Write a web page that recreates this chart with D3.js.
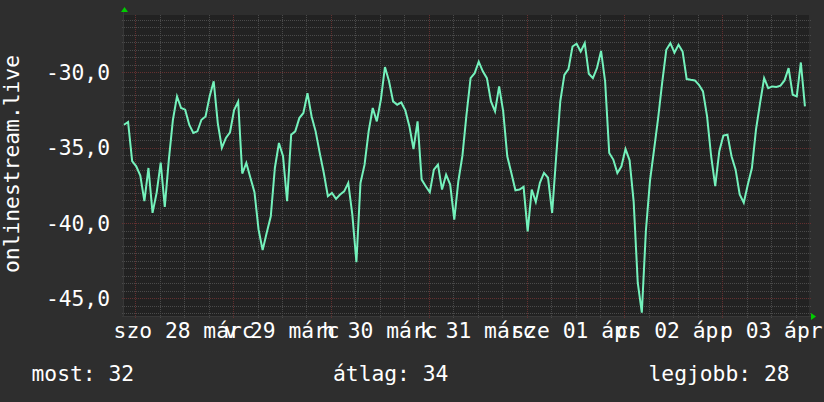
<!DOCTYPE html>
<html><head><meta charset="utf-8">
<script src="https://cdn.jsdelivr.net/npm/d3@7/dist/d3.min.js"></script>
<style>html,body{margin:0;padding:0;background:#2e2e2e;} svg{display:block}</style>
</head><body>
<svg id="chart" width="824" height="402"></svg>
<script>
// ---------------- data ----------------
const seriesName = "onlinestream.live";
const startTime = Date.UTC(2020, 2, 27, 21, 15);   // first sample
const endTime = Date.UTC(2020, 3, 3, 21, 15);      // end of the week window
const stepHours = 1;
const values = [
  -33.48,-33.3,-35.9,-36.24,-36.85,-38.55,-36.35,-39.33,-38.0,-36.0,
  -38.93,-35.8,-33.15,-31.6,-32.37,-32.48,-33.48,-34.03,-33.92,-33.15,
  -32.93,-31.6,-30.6,-33.37,-35.02,-34.36,-33.98,-32.5,-31.95,-36.72,
  -36.02,-37.0,-37.96,-40.43,-41.8,-40.65,-39.55,-36.35,-34.69,-35.57,
  -38.55,-34.14,-33.92,-33.04,-32.7,-31.38,-32.92,-33.92,-35.35,-36.68,
  -38.22,-38.0,-38.4,-38.11,-37.9,-37.34,-39.44,-42.6,-37.34,-36.13,
  -33.92,-32.37,-33.26,-31.82,-29.65,-30.6,-31.93,-32.15,-32.0,-32.53,
  -33.59,-35.09,-33.26,-37.12,-37.56,-37.96,-36.46,-36.13,-37.78,-36.79,
  -37.45,-39.77,-37.23,-35.53,-32.81,-30.39,-30.06,-29.3,-29.94,-30.39,
  -31.93,-32.59,-30.94,-32.59,-35.57,-36.68,-37.83,-37.78,-37.6,-40.55,
  -37.78,-38.6,-37.34,-36.68,-37.0,-39.33,-35.57,-31.93,-30.17,-29.79,
  -28.29,-28.11,-28.62,-28.07,-30.1,-30.39,-29.72,-28.58,-30.61,-35.35,
  -35.79,-36.68,-36.24,-35.09,-35.84,-38.6,-43.96,-45.95,-40.5,-37.2,
  -35.13,-33.04,-30.67,-28.51,-28.07,-28.7,-28.18,-28.62,-30.45,-30.5,
  -30.54,-30.83,-31.27,-32.92,-35.57,-37.56,-35.24,-34.2,-34.14,-35.57,
  -36.46,-38.11,-38.66,-37.45,-36.35,-33.81,-32.04,-30.39,-31.05,-30.94,
  -30.98,-30.89,-30.54,-29.72,-31.49,-31.6,-29.35,-32.26
];
const dayLabels = ["szo 28 márc","v 29 márc","h 30 márc","k 31 márc","sze 01 ápr","cs 02 ápr","p 03 ápr"];
const dayLabelTimes = ["2020-03-28T12:00Z","2020-03-29T12:00Z","2020-03-30T12:00Z","2020-03-31T12:00Z","2020-04-01T12:00Z","2020-04-02T12:00Z","2020-04-03T12:00Z"];
const yDomain = [-46.17, -26.2];
const yTicks = [-45, -40, -35, -30];
const yTickLabels = ["-45,0", "-40,0", "-35,0", "-30,0"];
const legendNames = ["most", "átlag", "legjobb"];
const legendValues = [32, 34, 28];

// ---------------- drawing ----------------
const FONT = "'DejaVu Sans Mono', monospace";
const FS = 21.3;
const svg = d3.select("#chart");
const W = 824, H = 402;
const plot = {l: 124, r: 809, t: 15, b: 316};

svg.append("rect").attr("width", W).attr("height", H).attr("fill", "#2e2e2e");

const x = d3.scaleUtc().domain([new Date(startTime), new Date(endTime)]).range([plot.l, plot.r]);
const y = d3.scaleLinear().domain(yDomain).range([plot.b, plot.t]);

svg.append("rect").attr("x", plot.l).attr("y", plot.t)
  .attr("width", plot.r - plot.l).attr("height", plot.b - plot.t).attr("fill", "#222222");

const px = v => Math.round(v) + 0.5;
const grid = svg.append("g").attr("shape-rendering", "crispEdges");
const MAJOR = "#643030", MINOR = "#4a4a4a";

// horizontal grid
const hMinor = d3.range(Math.ceil(yDomain[0] * 2) / 2, yDomain[1], 0.5);
hMinor.forEach(v => {
  const major = Math.abs(v % 5) < 1e-9;
  grid.append("line")
    .attr("x1", plot.l - 2).attr("x2", plot.r + 2)
    .attr("y1", px(y(v))).attr("y2", px(y(v)))
    .attr("stroke", major ? MAJOR : MINOR)
    .attr("stroke-width", 1)
    .attr("stroke-dasharray", "1,1");
});

// vertical grid
const vTicks = d3.utcHour.every(6).range(new Date(startTime), new Date(endTime));
vTicks.forEach(t => {
  const major = t.getUTCHours() === 0;
  grid.append("line")
    .attr("x1", px(x(t))).attr("x2", px(x(t)))
    .attr("y1", plot.t).attr("y2", plot.b + 2)
    .attr("stroke", major ? MAJOR : MINOR)
    .attr("stroke-width", 1)
    .attr("stroke-dasharray", "1,1");
});

// axis lines
svg.append("line").attr("x1", plot.l - 0.5).attr("x2", plot.l - 0.5)
  .attr("y1", plot.t - 3).attr("y2", plot.b + 1).attr("stroke", "#383838");
svg.append("line").attr("x1", plot.l - 2).attr("x2", plot.r + 3)
  .attr("y1", plot.b + 0.5).attr("y2", plot.b + 0.5).attr("stroke", "#383838");

// arrows
svg.append("path")
  .attr("d", `M${plot.l - 3},${plot.t - 3} L${plot.l + 4},${plot.t - 3} L${plot.l + 0.5},${plot.t - 8} Z`)
  .attr("fill", "#00cc00");
svg.append("path")
  .attr("d", `M${plot.r + 2},${plot.b - 3} L${plot.r + 2},${plot.b + 4} L${plot.r + 7},${plot.b + 0.5} Z`)
  .attr("fill", "#00cc00");

// data line
const line = d3.line()
  .x((d, i) => x(new Date(startTime + i * stepHours * 3600e3)))
  .y(d => y(d))
  .curve(d3.curveLinear);
svg.append("path").datum(values)
  .attr("d", line)
  .attr("fill", "none")
  .attr("stroke", "#74f2bc")
  .attr("stroke-width", 2)
  .attr("stroke-linejoin", "miter");

// y tick labels
svg.append("g").selectAll("text").data(yTicks).join("text")
  .attr("x", 110).attr("y", d => y(d) + 7.7)
  .attr("text-anchor", "end")
  .attr("font-family", FONT).attr("font-size", FS).attr("fill", "#ffffff")
  .text((d, i) => yTickLabels[i]);

// x labels
svg.append("g").selectAll("text").data(dayLabels).join("text")
  .attr("x", (d, i) => x(new Date(dayLabelTimes[i])))
  .attr("y", 338)
  .attr("text-anchor", "middle")
  .attr("font-family", FONT).attr("font-size", FS).attr("fill", "#ffffff")
  .text(d => d);

// y title
svg.append("text")
  .attr("transform", "translate(19,164) rotate(-90)")
  .attr("text-anchor", "middle")
  .attr("font-family", FONT).attr("font-size", FS).attr("fill", "#ffffff")
  .text(seriesName);

// legend
const legendX = [31.5, 333, 648.5];
svg.append("g").selectAll("text").data(legendNames).join("text")
  .attr("x", (d, i) => legendX[i]).attr("y", 381)
  .attr("font-family", FONT).attr("font-size", FS).attr("fill", "#ffffff")
  .text((d, i) => `${d}: ${legendValues[i]}`);
</script>
</body></html>
